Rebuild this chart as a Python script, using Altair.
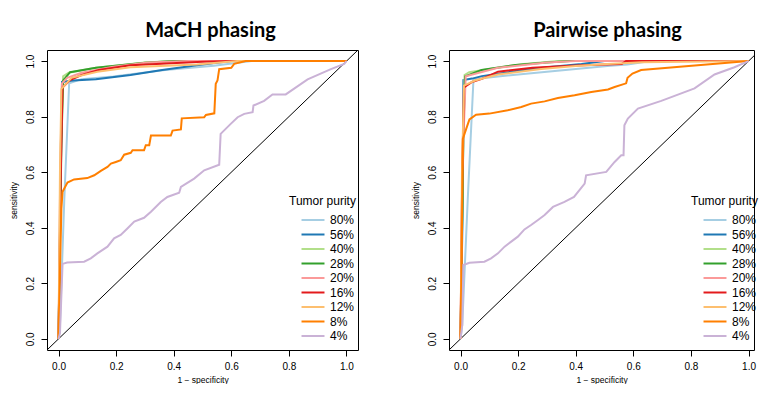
import altair as alt
import pandas as pd

PURITY = ["80%", "56%", "40%", "28%", "20%", "16%", "12%", "8%", "4%"]
COLORS = ["#A6CEE3", "#1F78B4", "#B2DF8A", "#33A02C", "#FB9A99",
          "#E31A1C", "#FDBF6F", "#FF7F00", "#CAB2D6"]
TICKS = [0.0, 0.2, 0.4, 0.6, 0.8, 1.0]
DOMAIN = [-0.04, 1.04]
DOMAIN_RIGHT_X = [-0.04, 1.019]   # right panel is cut at the picture edge
DIAG = [-0.04, 1.04]

# ---- MaCH phasing: (1 - specificity, sensitivity) ----
MACH_80 = [(0, 0), (0.005, 0.05), (0.02, 0.5), (0.037, 0.92), (0.08, 0.935), (0.19, 0.945),
           (0.37, 0.968), (0.54, 0.983), (0.67, 1.0), (1, 1)]
MACH_56 = [(0, 0), (0.008, 0.6), (0.012, 0.925), (0.05, 0.93), (0.13, 0.935), (0.25, 0.95),
           (0.36, 0.968), (0.48, 0.985), (0.6, 1.0), (1, 1)]
MACH_40 = [(0, 0), (0.008, 0.7), (0.016, 0.945), (0.035, 0.958), (0.13, 0.976), (0.3, 0.995),
           (0.4, 1.0), (1, 1)]
MACH_28 = [(0, 0), (0.01, 0.7), (0.016, 0.93), (0.04, 0.96), (0.13, 0.976), (0.3, 0.994),
           (0.4, 1.0), (1, 1)]
MACH_20 = [(0, 0), (0.006, 0.6), (0.012, 0.92), (0.03, 0.94), (0.08, 0.958), (0.19, 0.98),
           (0.31, 0.995), (0.45, 1.0), (1, 1)]
MACH_16 = [(0, 0), (0.008, 0.6), (0.014, 0.905), (0.04, 0.932), (0.08, 0.95), (0.14, 0.968),
           (0.25, 0.985), (0.5, 0.998), (0.6, 1.0), (1, 1)]
MACH_12 = [(0, 0), (0.005, 0.6), (0.01, 0.9), (0.045, 0.94), (0.135, 0.962), (0.25, 0.978),
           (0.48, 0.988), (0.62, 1.0), (1, 1)]
MACH_8 = [(0, 0), (0.004, 0.2), (0.01, 0.47), (0.014, 0.53), (0.031, 0.563), (0.054, 0.574),
          (0.1, 0.579), (0.124, 0.589), (0.147, 0.605), (0.17, 0.619), (0.182, 0.631),
          (0.199, 0.637), (0.216, 0.643), (0.228, 0.663), (0.251, 0.67), (0.257, 0.679),
          (0.297, 0.679), (0.303, 0.697), (0.315, 0.697), (0.321, 0.732), (0.39, 0.732),
          (0.396, 0.75), (0.425, 0.754), (0.428, 0.794), (0.506, 0.798), (0.512, 0.806),
          (0.541, 0.812), (0.546, 0.918), (0.552, 0.93), (0.558, 0.971), (0.6, 0.976),
          (0.61, 0.99), (0.65, 1.0), (1, 1)]
MACH_4 = [(0, 0), (0.005, 0.02), (0.014, 0.27), (0.03, 0.275), (0.089, 0.278), (0.112, 0.29),
          (0.135, 0.308), (0.17, 0.332), (0.193, 0.362), (0.216, 0.374), (0.24, 0.398),
          (0.263, 0.422), (0.297, 0.436), (0.321, 0.458), (0.355, 0.493), (0.378, 0.511),
          (0.419, 0.526), (0.425, 0.547), (0.471, 0.577), (0.506, 0.607), (0.558, 0.627),
          (0.563, 0.738), (0.598, 0.774), (0.622, 0.798), (0.645, 0.81), (0.674, 0.816),
          (0.677, 0.84), (0.714, 0.857), (0.743, 0.88), (0.789, 0.88), (0.865, 0.934),
          (0.946, 0.971), (0.992, 0.99), (1, 1)]

# ---- Pairwise phasing ----
PAIR_80 = [(0, 0), (0.006, 0.05), (0.025, 0.5), (0.045, 0.935), (0.13, 0.945), (0.3, 0.962),
           (0.51, 0.982), (0.58, 0.988), (0.66, 1.0), (1, 1)]
PAIR_56 = [(0, 0), (0.008, 0.5), (0.01, 0.932), (0.04, 0.937), (0.074, 0.946), (0.19, 0.964),
           (0.3, 0.978), (0.42, 0.99), (0.5, 1.0), (1, 1)]
PAIR_40 = [(0, 0), (0.008, 0.6), (0.014, 0.95), (0.03, 0.96), (0.1, 0.972), (0.22, 0.99),
           (0.34, 1.0), (1, 1)]
PAIR_28 = [(0, 0), (0.01, 0.75), (0.016, 0.945), (0.073, 0.968), (0.19, 0.986), (0.3, 0.995),
           (0.38, 1.0), (1, 1)]
PAIR_20 = [(0, 0), (0.006, 0.6), (0.018, 0.945), (0.13, 0.976), (0.3, 0.995), (0.4, 1.0), (1, 1)]
PAIR_16 = [(0, 0), (0.006, 0.6), (0.012, 0.905), (0.04, 0.925), (0.074, 0.936), (0.13, 0.962),
           (0.25, 0.976), (0.4, 0.984), (0.56, 0.99), (0.575, 1.0), (1, 1)]
PAIR_12 = [(0, 0), (0.005, 0.6), (0.012, 0.912), (0.05, 0.93), (0.13, 0.952), (0.28, 0.972),
           (0.4, 0.982), (0.51, 0.99), (0.63, 0.996), (1, 1)]
PAIR_8 = [(0, 0), (0.004, 0.3), (0.008, 0.72), (0.02, 0.757), (0.031, 0.79), (0.054, 0.807),
          (0.1, 0.811), (0.164, 0.823), (0.211, 0.835), (0.245, 0.847), (0.292, 0.855),
          (0.338, 0.867), (0.396, 0.877), (0.454, 0.889), (0.512, 0.898), (0.535, 0.907),
          (0.575, 0.92), (0.58, 0.94), (0.597, 0.955), (0.627, 0.968), (1, 1)]
PAIR_4 = [(0, 0), (0.006, 0.05), (0.01, 0.266), (0.031, 0.274), (0.083, 0.278), (0.106, 0.29),
          (0.13, 0.308), (0.153, 0.332), (0.176, 0.35), (0.199, 0.368), (0.222, 0.394),
          (0.245, 0.41), (0.269, 0.428), (0.292, 0.446), (0.321, 0.475), (0.361, 0.493),
          (0.394, 0.511), (0.431, 0.559), (0.436, 0.589), (0.506, 0.601), (0.535, 0.637),
          (0.558, 0.661), (0.566, 0.661), (0.569, 0.769), (0.581, 0.793), (0.616, 0.829),
          (0.697, 0.857), (0.8125, 0.902), (0.882, 0.952), (0.951, 0.978), (1, 1)]

MACH = [MACH_80, MACH_56, MACH_40, MACH_28, MACH_20, MACH_16, MACH_12, MACH_8, MACH_4]
PAIR = [PAIR_80, PAIR_56, PAIR_40, PAIR_28, PAIR_20, PAIR_16, PAIR_12, PAIR_8, PAIR_4]

FONT = "Liberation Sans"


def to_frame(series_list):
    rows = []
    for k, (name, pts) in enumerate(zip(PURITY, series_list)):
        for i, (x, y) in enumerate(pts):
            rows.append({"purity": name, "k": k, "i": i, "fpr": x, "tpr": y})
    return pd.DataFrame(rows)


def x_enc(field, xdom):
    return alt.X(f"{field}:Q", scale=alt.Scale(domain=xdom, nice=False, zero=False),
                 axis=alt.Axis(values=TICKS, format=".1f", title="1 − specificity",
                               labelPadding=5, titlePadding=4))


def y_enc(field):
    return alt.Y(f"{field}:Q", scale=alt.Scale(domain=DOMAIN, nice=False, zero=False),
                 axis=alt.Axis(values=TICKS, format=".1f", title="sensitivity",
                               labelAngle=270, labelAlign="center", labelBaseline="bottom",
                               labelPadding=6, titlePadding=7))


def panel(title, series_list, title_dx, xdom, width, legend_x):
    df = to_frame(series_list)
    diag = alt.Chart(pd.DataFrame({"d": DIAG})).mark_line(
        color="black", strokeWidth=1, clip=True
    ).encode(x=x_enc("d", xdom), y=y_enc("d"))
    lines = alt.Chart(df).mark_line(strokeWidth=2, clip=True).encode(
        x=x_enc("fpr", xdom),
        y=y_enc("tpr"),
        color=alt.Color(
            "purity:N",
            scale=alt.Scale(domain=PURITY, range=COLORS),
            legend=alt.Legend(
                title="Tumor purity", orient="none", legendX=legend_x, legendY=146,
                symbolType="M-4,0H4", symbolSize=33, symbolStrokeWidth=2,
                symbolOffset=18, labelOffset=11, rowPadding=2.5, titlePadding=6,
                labelFontSize=12, titleFontSize=12, titleFontWeight="normal",
                labelFont=FONT, titleFont=FONT, labelColor="black", titleColor="black",
                padding=0,
            ),
        ),
        order=alt.Order("i:Q"),
        detail="k:N",
    )
    return alt.layer(diag, lines).properties(
        width=width, height=300,
        title=alt.TitleParams(title, font="Lato", fontSize=20, fontWeight="bold",
                              anchor="middle", offset=-11, dx=title_dx, color="black",
                              baseline="bottom"),
    )


chart = alt.hconcat(
    panel("MaCH phasing", MACH, 8, DOMAIN, 311, 242),
    panel("Pairwise phasing", PAIR, 6, DOMAIN_RIGHT_X, 305, 242),
    spacing=51,
).resolve_scale(color="independent").properties(
    padding={"left": 0, "top": 12, "right": 0, "bottom": 0}
).configure_view(stroke="black", strokeWidth=1).configure_axis(
    domain=False, grid=False, tickColor="black", tickSize=6, tickWidth=1,
    labelFont=FONT, labelFontSize=10, labelColor="black",
    titleFont=FONT, titleFontSize=8.5, titleFontWeight="normal", titleColor="black",
)

chart.save("out.html", embed_options={"renderer": "svg", "actions": False})
